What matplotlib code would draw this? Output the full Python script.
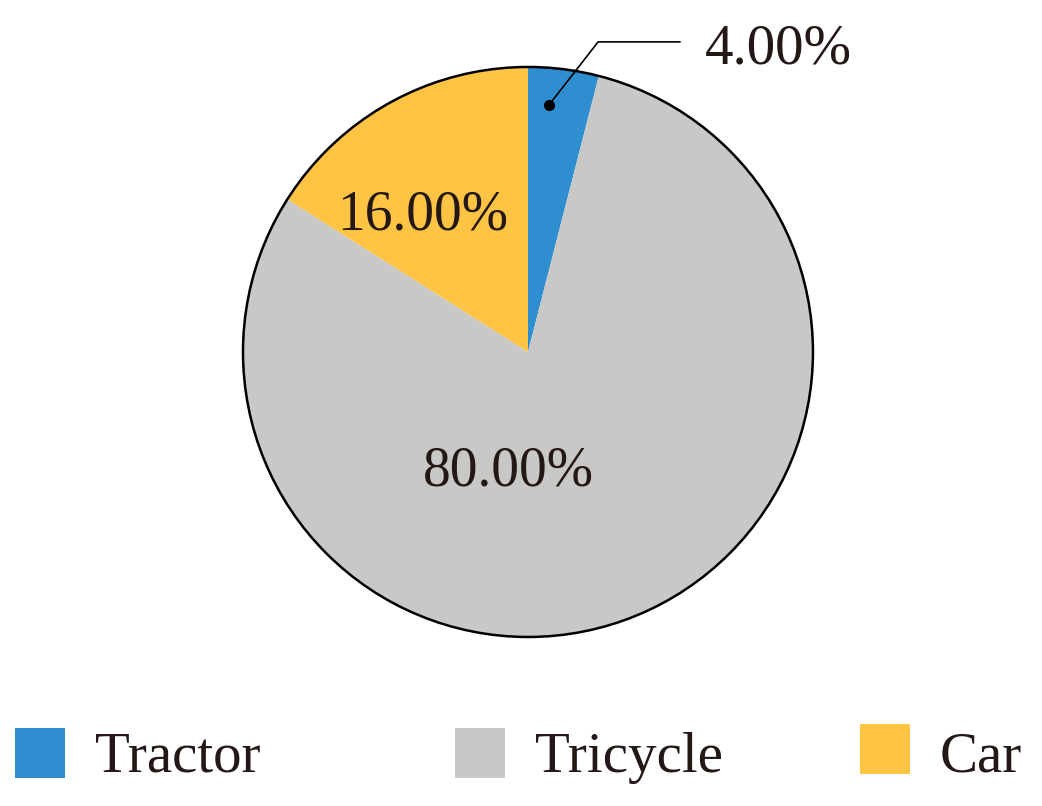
import matplotlib.pyplot as plt
from matplotlib.patches import Rectangle, Circle

categories = ['Tractor', 'Tricycle', 'Car']
shares = [4.0, 80.0, 16.0]
colors = ['#2E8ECF', '#C8C8C7', '#FFC444']
text_color = '#231815'

plt.rcParams['font.family'] = ['Liberation Serif', 'DejaVu Serif']

fig = plt.figure(figsize=(10.42, 8.06), dpi=100)
ax = fig.add_axes([0.2332, 0.2097, 0.547, 0.7072])

wedges, _ = ax.pie(shares, colors=colors, startangle=90, counterclock=False,
                   radius=1, wedgeprops=dict(linewidth=0))
ax.add_patch(Circle((0, 0), 1, fill=False, edgecolor='black', linewidth=1.8,
                    clip_on=False))
ax.set_xlim(-1, 1)
ax.set_ylim(-1, 1)
ax.set_aspect('auto')
ax.axis('off')

total = sum(shares)
labels = [f'{v / total * 100:.2f}%' for v in shares]

# Tractor label with leader line
ax.plot([0.074, 0.246, 0.533], [0.867, 1.088, 1.088], color='black', lw=1.2,
        clip_on=False)
ax.plot([0.074], [0.867], 'o', color='black', ms=7, clip_on=False)
ax.text(0.62, 1.06, labels[0], fontsize=41, color=text_color,
        ha='left', va='center', clip_on=False)
ax.text(-0.07, -0.42, labels[1], fontsize=40, color=text_color,
        ha='center', va='center')
ax.text(-0.37, 0.48, labels[2], fontsize=40, color=text_color,
        ha='center', va='center')

# legend along the bottom
W, H = 1042, 806
box_x = [15, 455, 860]
box_top = [728, 728, 724]
txt_x = [95, 535, 940]
for i, name in enumerate(categories):
    fig.patches.append(Rectangle((box_x[i] / W, (H - box_top[i] - 50) / H),
                                 50 / W, 50 / H, transform=fig.transFigure,
                                 facecolor=colors[i], edgecolor='none'))
    fig.text(txt_x[i] / W, (H - 758) / H, name, fontsize=41, color=text_color,
             ha='left', va='center')

fig.savefig('out.png', dpi=100, facecolor='white')
